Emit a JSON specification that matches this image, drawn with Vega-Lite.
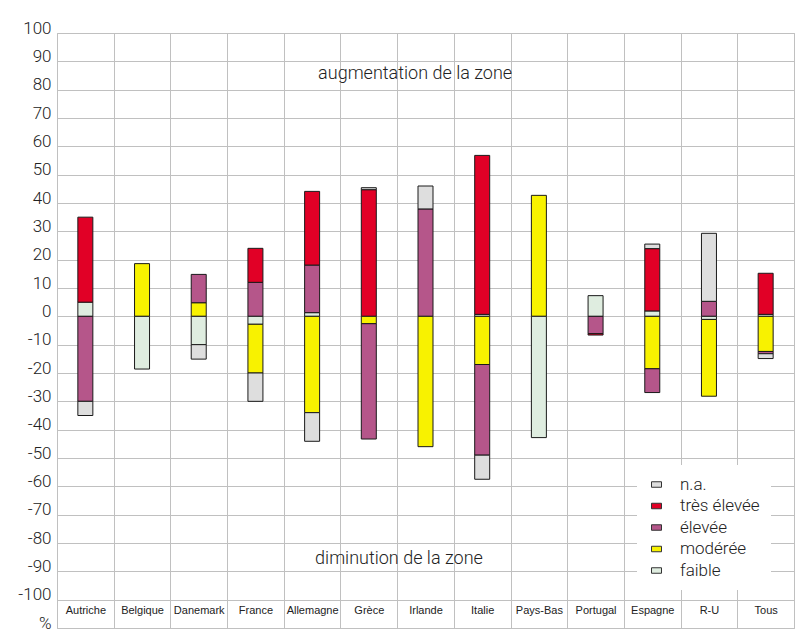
{
  "$schema": "https://vega.github.io/schema/vega-lite/v6.json",
  "width": 737,
  "height": 595,
  "autosize": {"type": "none"},
  "padding": {"left": 57, "top": 33, "right": 16, "bottom": 16},
  "background": "white",
  "config": {
    "view": {"stroke": "#c0c0c0", "strokeWidth": 1},
    "font": "Roboto",
    "axis": {"labelOverlap": false},
    "axisY": {
      "title": null,
      "grid": true,
      "gridColor": "#c0c0c0",
      "gridWidth": 1,
      "ticks": false,
      "domain": false,
      "labelBaseline": "alphabetic",
      "labelPadding": 6,
      "labelFlush": false,
      "labelOverlap": false,
      "labelFont": "Roboto",
      "labelFontWeight": 300,
      "labelFontSize": 17,
      "labelColor": "#222"
    }
  },
  "datasets": {
    "niveaux": [
      {"niveau": "faible", "rang": 1},
      {"niveau": "modérée", "rang": 2},
      {"niveau": "élevée", "rang": 3},
      {"niveau": "très élevée", "rang": 4},
      {"niveau": "n.a.", "rang": 5}
    ],
    "annotations": [
      {"texte": "augmentation de la zone"}
    ],
    "annotations2": [
      {"texte": "diminution de la zone"}
    ]
  },
  "data": {
    "values": [
      {"pays": "Autriche", "niveau": "faible", "valeur": 5},
      {"pays": "Autriche", "niveau": "très élevée", "valeur": 30},
      {"pays": "Autriche", "niveau": "élevée", "valeur": -30},
      {"pays": "Autriche", "niveau": "n.a.", "valeur": -5},
      {"pays": "Belgique", "niveau": "modérée", "valeur": 18.6},
      {"pays": "Belgique", "niveau": "faible", "valeur": -18.6},
      {"pays": "Danemark", "niveau": "modérée", "valeur": 4.8},
      {"pays": "Danemark", "niveau": "élevée", "valeur": 10},
      {"pays": "Danemark", "niveau": "faible", "valeur": -10},
      {"pays": "Danemark", "niveau": "n.a.", "valeur": -5.1},
      {"pays": "France", "niveau": "élevée", "valeur": 12},
      {"pays": "France", "niveau": "très élevée", "valeur": 12},
      {"pays": "France", "niveau": "faible", "valeur": -2.8},
      {"pays": "France", "niveau": "modérée", "valeur": -17.2},
      {"pays": "France", "niveau": "n.a.", "valeur": -10},
      {"pays": "Allemagne", "niveau": "faible", "valeur": 1.3},
      {"pays": "Allemagne", "niveau": "élevée", "valeur": 16.8},
      {"pays": "Allemagne", "niveau": "très élevée", "valeur": 26},
      {"pays": "Allemagne", "niveau": "modérée", "valeur": -34},
      {"pays": "Allemagne", "niveau": "n.a.", "valeur": -10.1},
      {"pays": "Grèce", "niveau": "très élevée", "valeur": 44.7},
      {"pays": "Grèce", "niveau": "n.a.", "valeur": 0.7},
      {"pays": "Grèce", "niveau": "modérée", "valeur": -2.6},
      {"pays": "Grèce", "niveau": "élevée", "valeur": -40.7},
      {"pays": "Irlande", "niveau": "élevée", "valeur": 37.9},
      {"pays": "Irlande", "niveau": "n.a.", "valeur": 8.1},
      {"pays": "Irlande", "niveau": "modérée", "valeur": -46},
      {"pays": "Italie", "niveau": "faible", "valeur": 0.7},
      {"pays": "Italie", "niveau": "très élevée", "valeur": 56.1},
      {"pays": "Italie", "niveau": "modérée", "valeur": -17},
      {"pays": "Italie", "niveau": "élevée", "valeur": -32},
      {"pays": "Italie", "niveau": "n.a.", "valeur": -8.5},
      {"pays": "Pays-Bas", "niveau": "modérée", "valeur": 42.7},
      {"pays": "Pays-Bas", "niveau": "faible", "valeur": -42.8},
      {"pays": "Portugal", "niveau": "faible", "valeur": 7.3},
      {"pays": "Portugal", "niveau": "élevée", "valeur": -6.1},
      {"pays": "Portugal", "niveau": "très élevée", "valeur": -0.5},
      {"pays": "Espagne", "niveau": "faible", "valeur": 1.9},
      {"pays": "Espagne", "niveau": "très élevée", "valeur": 22},
      {"pays": "Espagne", "niveau": "n.a.", "valeur": 1.6},
      {"pays": "Espagne", "niveau": "modérée", "valeur": -18.5},
      {"pays": "Espagne", "niveau": "élevée", "valeur": -8.4},
      {"pays": "R-U", "niveau": "élevée", "valeur": 5.3},
      {"pays": "R-U", "niveau": "n.a.", "valeur": 24},
      {"pays": "R-U", "niveau": "faible", "valeur": -1.1},
      {"pays": "R-U", "niveau": "modérée", "valeur": -27.1},
      {"pays": "Tous", "niveau": "faible", "valeur": 0.7},
      {"pays": "Tous", "niveau": "très élevée", "valeur": 14.5},
      {"pays": "Tous", "niveau": "modérée", "valeur": -12.4},
      {"pays": "Tous", "niveau": "élevée", "valeur": -0.8},
      {"pays": "Tous", "niveau": "n.a.", "valeur": -1.7}
    ]
  },
  "layer": [
    {
      "transform": [
        {"lookup": "niveau", "from": {"data": {"name": "niveaux"}, "key": "niveau", "fields": ["rang"]}}
      ],
      "mark": {"type": "bar", "size": 15, "stroke": "#1a1a1a", "strokeWidth": 1},
      "encoding": {
        "x": {
          "field": "pays",
          "type": "nominal",
          "scale": {
            "domain": ["Autriche", "Belgique", "Danemark", "France", "Allemagne", "Grèce", "Irlande", "Italie", "Pays-Bas", "Portugal", "Espagne", "R-U", "Tous"],
            "paddingInner": 0,
            "paddingOuter": 0
          },
          "axis": {
            "orient": "bottom",
            "title": null,
            "tickBand": "extent",
            "grid": true,
            "gridColor": "#c0c0c0",
            "gridWidth": 1,
            "ticks": false,
            "domain": false,
            "labelAngle": 0,
            "labelPadding": -24,
            "labelFont": "Liberation Sans",
            "labelFontSize": 11,
            "labelColor": "#222",
            "labelOverlap": false
          }
        },
        "y": {
          "field": "valeur",
          "type": "quantitative",
          "stack": "zero",
          "scale": {"domain": [-110, 100], "nice": false, "zero": false},
          "axis": {
            "values": [-110, -100, -90, -80, -70, -60, -50, -40, -30, -20, -10, 0, 10, 20, 30, 40, 50, 60, 70, 80, 90, 100],
            "labelExpr": "datum.value == -110 ? '%' : datum.value",
            "labelOverlap": false
          }
        },
        "order": {"field": "rang", "type": "quantitative", "sort": "ascending"},
        "color": {
          "field": "niveau",
          "type": "nominal",
          "scale": {
            "domain": ["n.a.", "très élevée", "élevée", "modérée", "faible"],
            "range": ["#dedede", "#e10026", "#b5568a", "#f8f200", "#dfede0"]
          },
          "legend": {
            "orient": "none",
            "legendX": 580,
            "legendY": 432,
            "title": null,
            "fillColor": "white",
            "padding": 11,
            "labelFont": "Roboto",
            "labelFontWeight": 300,
            "labelFontSize": 17,
            "labelColor": "#222",
            "labelOffset": 15,
            "rowPadding": 3.5,
            "symbolType": "M-1,-0.55H1V0.55H-1Z",
            "symbolSize": 100,
            "symbolStrokeColor": "#333",
            "symbolStrokeWidth": 1
          }
        }
      }
    },
    {
      "data": {"name": "annotations"},
      "mark": {"type": "text", "align": "left", "baseline": "alphabetic", "dx": 6, "font": "Roboto", "fontWeight": 300, "fontSize": 18, "fill": "#222"},
      "encoding": {
        "x": {"datum": "Allemagne"},
        "y": {
          "datum": 83.75,
          "axis": {
            "values": [-110, -100, -90, -80, -70, -60, -50, -40, -30, -20, -10, 0, 10, 20, 30, 40, 50, 60, 70, 80, 90, 100],
            "labelExpr": "datum.value == -110 ? '%' : datum.value",
            "labelOverlap": false
          }
        },
        "text": {"field": "texte"}
      }
    },
    {
      "data": {"name": "annotations2"},
      "mark": {"type": "text", "align": "left", "baseline": "alphabetic", "dx": 3, "font": "Roboto", "fontWeight": 300, "fontSize": 18, "fill": "#222"},
      "encoding": {
        "x": {"datum": "Allemagne"},
        "y": {
          "datum": -87.4,
          "axis": {
            "values": [-110, -100, -90, -80, -70, -60, -50, -40, -30, -20, -10, 0, 10, 20, 30, 40, 50, 60, 70, 80, 90, 100],
            "labelExpr": "datum.value == -110 ? '%' : datum.value",
            "labelOverlap": false
          }
        },
        "text": {"field": "texte"}
      }
    }
  ]
}
